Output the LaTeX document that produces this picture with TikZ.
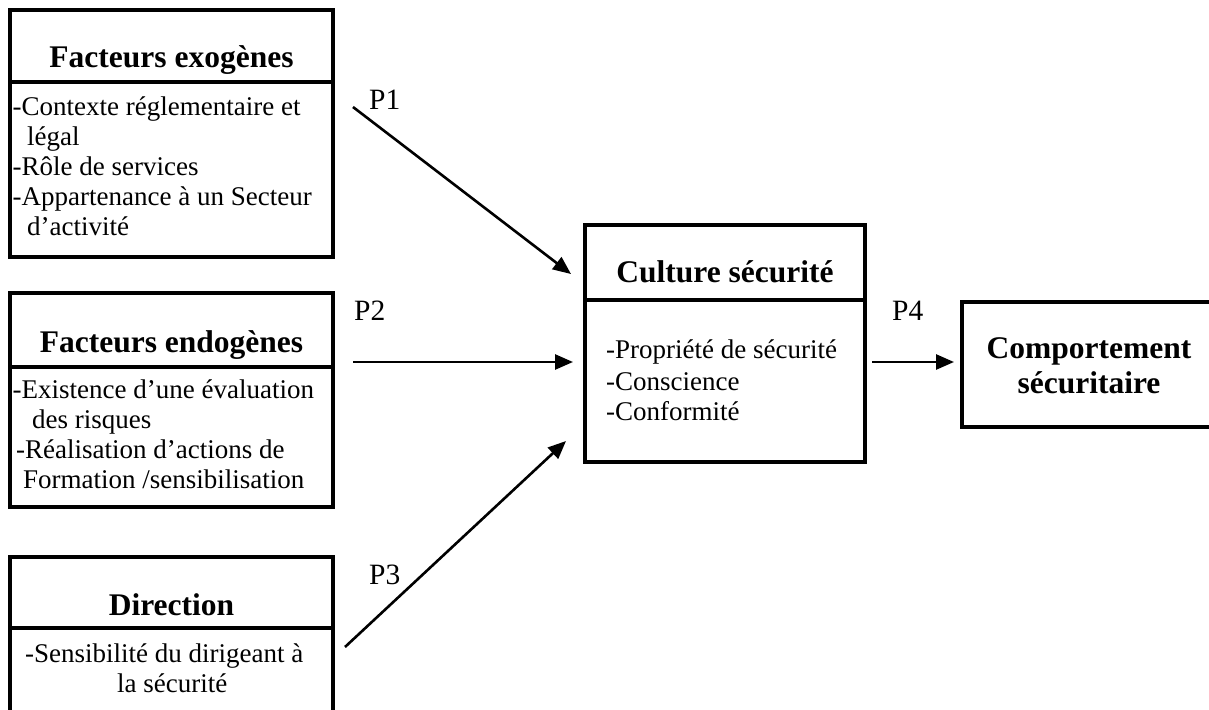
\documentclass[tikz,border=0pt]{standalone}
\usepackage{fontspec}
\setmainfont{Liberation Serif}
\usetikzlibrary{arrows.meta}
\begin{document}
\begin{tikzpicture}[x=1pt,y=-1pt,
  frame/.style={draw=black,line width=3.8pt},
  boxnode/.style={frame,anchor=north west,inner sep=0pt,outer sep=0pt},
  title/.style={anchor=base,inner sep=0pt,font=\fontsize{31.5}{36}\selectfont\bfseries},
  body/.style={anchor=base west,inner sep=0pt,font=\fontsize{27}{30}\selectfont},
  plabel/.style={anchor=base west,inner sep=0pt,font=\fontsize{29.5}{33}\selectfont},
  arr/.style={draw=black,line width=2.6pt,-{Triangle[length=18pt,width=15pt]}}]
\useasboundingbox (0,0) rectangle (1209,709);
\clip (0,0) rectangle (1209,709);
\fill[white] (0,0) rectangle (1209,709);
% boxes
\node[boxnode,minimum width=323pt,minimum height=247pt] (exo) at (10,10) {};
\draw[frame] (10,82) -- (333,82);
\node[boxnode,minimum width=323pt,minimum height=214pt] (endo) at (10,293) {};
\draw[frame] (10,367) -- (333,367);
\node[boxnode,minimum width=323pt,minimum height=200pt] (dir) at (10,557) {};
\draw[frame] (10,628) -- (333,628);
\node[boxnode,minimum width=280pt,minimum height=237pt] (cult) at (585,225) {};
\draw[frame] (585,300) -- (865,300);
\node[boxnode,minimum width=254pt,minimum height=125pt] (comp) at (962,302) {};
% titles
\node[title] (t1) at (171.5,67) {Facteurs exogènes};
\node[title] (t2) at (171.5,352) {Facteurs endogènes};
\node[title] (t3) at (171.5,615) {Direction};
\node[title] (t4) at (725,282) {Culture sécurité};
\node[title] (t5) at (1089,358) {Comportement};
\node[title] (t6) at (1089,393) {sécuritaire};
% body texts
\node[body] (a1) at (12.5,115) {-Contexte réglementaire et};
\node[body] (a2) at (27,145) {légal};
\node[body] (a3) at (12.5,175) {-Rôle de services};
\node[body] (a4) at (12.5,205) {-Appartenance à un Secteur};
\node[body] (a5) at (27,235) {d’activité};
\node[body] (b1) at (12.5,398) {-Existence d’une évaluation};
\node[body] (b2) at (32,428) {des risques};
\node[body] (b3) at (16,458) {-Réalisation d’actions de};
\node[body] (b4) at (23,488) {Formation /sensibilisation};
\node[body] (c1) at (25,662) {-Sensibilité du dirigeant à};
\node[body] (c2) at (117,692) {la sécurité};
\node[body] (d1) at (606,358) {-Propriété de sécurité};
\node[body] (d2) at (606,390) {-Conscience};
\node[body] (d3) at (606,420) {-Conformité};
% connectors
\coordinate (p1s) at (353,107);
\coordinate (p1e) at (571,274);
\coordinate (p2s) at (353,362);
\coordinate (p2e) at (573,362);
\coordinate (p3s) at (345,647);
\coordinate (p3e) at (566,441);
\coordinate (p4s) at (872,362);
\coordinate (p4e) at (954,362);
\draw[arr] (p1s) -- (p1e);
\draw[arr] (p2s) -- (p2e);
\draw[arr] (p3s) -- (p3e);
\draw[arr] (p4s) -- (p4e);
% labels
\node[plabel] (l1) at (369,109) {P1};
\node[plabel] (l2) at (354,320) {P2};
\node[plabel] (l3) at (369,584) {P3};
\node[plabel] (l4) at (892,320) {P4};
\end{tikzpicture}
\end{document}
